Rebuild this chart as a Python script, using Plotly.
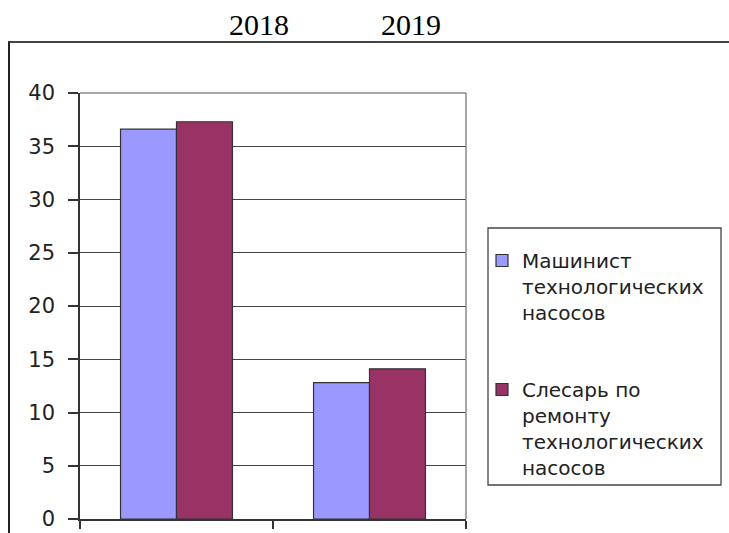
import plotly.graph_objects as go

# Categories and series values
years = ["2018", "2019"]
series_names = [
    "Машинист<br>технологических<br>насосов",
    "Слесарь по<br>ремонту<br>технологических<br>насосов",
]
machinist = [36.6, 12.8]
fitter = [37.3, 14.1]
y_ticks = [0, 5, 10, 15, 20, 25, 30, 35, 40]

W, H = 729, 533
L, R, T, B = 80, 466, 93, 519  # plot area edges in pixels


def px_x(x):
    return (x - L) / (R - L)


def px_y(y):
    return (B - y) / (B - T)


fig = go.Figure()
fig.add_trace(go.Bar(
    x=years, y=machinist, name=series_names[0], legendgroup="a",
    marker=dict(color="#9999FF", line=dict(color="#333333", width=1.2)),
))
fig.add_trace(go.Bar(
    x=years, y=fitter, name=series_names[1], legendgroup="b",
    marker=dict(color="#993366", line=dict(color="#333333", width=1.2)),
))

font_sans = "DejaVu Sans, Arial, sans-serif"

fig.update_layout(
    width=W, height=H,
    margin=dict(l=L, r=W - R, t=T, b=H - B, pad=0, autoexpand=False),
    paper_bgcolor="white", plot_bgcolor="white",
    barmode="group", bargap=0.42, bargroupgap=0,
    showlegend=True,
    legend=dict(
        x=px_x(482), y=px_y(241), xanchor="left", yanchor="top",
        bgcolor="rgba(0,0,0,0)", borderwidth=0,
        font=dict(family=font_sans, size=20, color="#222222"),
        valign="top", tracegroupgap=48, traceorder="grouped",
        itemclick=False,
    ),
    xaxis=dict(
        type="category", showticklabels=False, showgrid=False,
        showline=True, linecolor="#333333", linewidth=1.5,
        ticks="outside", tickson="boundaries", ticklen=8,
        tickcolor="#333333", tickwidth=1.5,
    ),
    yaxis=dict(
        range=[0, 40], tickvals=y_ticks, showgrid=True,
        gridcolor="#444444", gridwidth=1.3,
        showline=True, linecolor="#333333", linewidth=1.5,
        ticks="outside", ticklen=10, tickcolor="#333333", tickwidth=1.5,
        ticklabelstandoff=9,
        tickfont=dict(family=font_sans, size=21, color="#222222"),
        zeroline=False,
    ),
)

# Light grey border on the top and right of the plot area
fig.add_shape(type="line", xref="paper", yref="paper", x0=0, x1=1, y0=1, y1=1,
              line=dict(color="#8a8a8a", width=1.5))
fig.add_shape(type="line", xref="paper", yref="paper", x0=1, x1=1, y0=0, y1=1,
              line=dict(color="#8a8a8a", width=1.5))

# Legend box
fig.add_shape(type="rect", xref="paper", yref="paper",
              x0=px_x(488), x1=px_x(721), y0=px_y(485), y1=px_y(228),
              line=dict(color="#444444", width=1.3), fillcolor="rgba(0,0,0,0)")

# Outer frame: top and left edges
fig.add_shape(type="line", xref="paper", yref="paper",
              x0=px_x(8), x1=px_x(W + 2), y0=px_y(42), y1=px_y(42),
              line=dict(color="#444444", width=2))
fig.add_shape(type="line", xref="paper", yref="paper",
              x0=px_x(9), x1=px_x(9), y0=px_y(42), y1=px_y(H + 2),
              line=dict(color="#222222", width=2))

# Year headings above the frame
for label, cx in zip(years, [259, 411]):
    fig.add_annotation(
        text=label, xref="paper", yref="paper", x=px_x(cx), y=px_y(25),
        xanchor="center", yanchor="middle", showarrow=False,
        font=dict(family="Times New Roman, Liberation Serif, serif", size=30, color="#000000"),
    )

fig.write_html("out.html")
